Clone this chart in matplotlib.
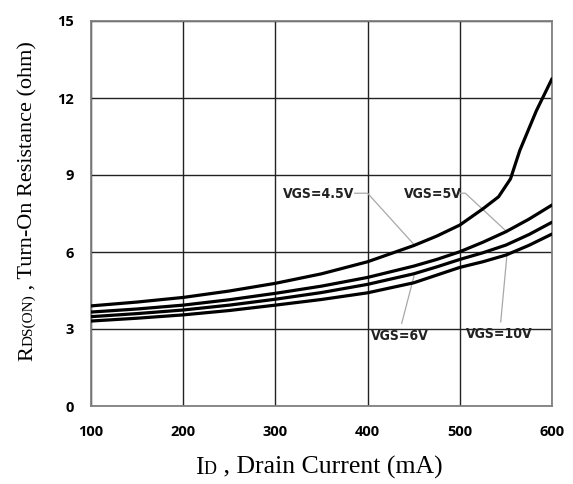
"""
Rds(on) vs Id para distintas tensiones VGS.
"""
import matplotlib
matplotlib.use("Agg")
import matplotlib.pyplot as plt
from matplotlib import font_manager

# datos
x_45 = [100, 150, 200, 250, 300, 350, 400, 450, 475, 500, 525, 542, 555, 565, 583, 600]
r_45 = [3.90, 4.05, 4.23, 4.48, 4.78, 5.15, 5.62, 6.25, 6.62, 7.05, 7.68, 8.15, 8.85, 9.95, 11.5, 12.75]

x_5 = [100, 150, 200, 250, 300, 350, 400, 450, 475, 500, 525, 550, 575, 600]
r_5 = [3.66, 3.78, 3.93, 4.14, 4.39, 4.67, 5.01, 5.45, 5.71, 6.01, 6.38, 6.79, 7.28, 7.83]

x_6 = [100, 150, 200, 250, 300, 350, 400, 450, 475, 500, 525, 550, 575, 600]
r_6 = [3.48, 3.60, 3.74, 3.93, 4.16, 4.42, 4.74, 5.15, 5.42, 5.71, 5.97, 6.27, 6.68, 7.16]

x_10 = [100, 150, 200, 250, 300, 350, 400, 450, 475, 500, 525, 550, 575, 600]
r_10 = [3.31, 3.42, 3.55, 3.72, 3.93, 4.15, 4.41, 4.80, 5.10, 5.40, 5.62, 5.88, 6.26, 6.70]

etiquetas = ["VGS=4.5V", "VGS=5V", "VGS=6V", "VGS=10V"]
xticks = [100, 200, 300, 400, 500, 600]
yticks = [0, 3, 6, 9, 12, 15]

nombres = {f.name for f in font_manager.fontManager.ttflist}
fuente_num = "Open Sans" if "Open Sans" in nombres else "DejaVu Sans"
serif = "Liberation Serif"

fig = plt.figure(figsize=(5.73, 4.84), dpi=100)
ax = fig.add_axes([91 / 573, 78 / 484, 461 / 573, 385 / 484])

for xs, rs in [(x_45, r_45), (x_5, r_5), (x_6, r_6), (x_10, r_10)]:
    ax.plot(xs, rs, color="black", lw=2.3, solid_capstyle="round",
            solid_joinstyle="round", zorder=3)

ax.set_xlim(100, 600)
ax.set_ylim(0, 15)
ax.set_xticks(xticks)
ax.set_yticks(yticks)
ax.grid(True, color="#222222", lw=1.0)
ax.tick_params(length=0)
ax.tick_params(axis="x", pad=14)
ax.tick_params(axis="y", pad=12)
for lab in ax.get_xticklabels() + ax.get_yticklabels():
    lab.set_fontfamily(fuente_num)
    lab.set_fontweight("bold")
    lab.set_fontsize(10.5)
for s in ax.spines.values():
    s.set_color("#808080")
    s.set_linewidth(1.3)

# etiquetas con lineas guia
gris = "#a8a8a8"
ax.plot([386, 400, 449.6], [8.29, 8.29, 6.32], color=gris, lw=0.9, zorder=2)
ax.plot([500, 506, 551], [8.29, 8.29, 6.79], color=gris, lw=0.9, zorder=2)
ax.plot([437, 450.3], [3.22, 5.06], color=gris, lw=0.9, zorder=2)
ax.plot([544.4, 551], [3.28, 5.84], color=gris, lw=0.9, zorder=2)

pos_lbl = [(346.5, 8.26), (471.3, 8.26), (435.1, 2.74), (542.9, 2.79)]
for txt, (px, py) in zip(etiquetas, pos_lbl):
    ax.text(px, py, txt, ha="center", va="center", fontsize=10,
            fontweight="bold", family="DejaVu Sans", fontstretch="condensed",
            color="#222222", zorder=4)


def texto_por_partes(partes, x0, y0, rot, centro):
    """Escribe trozos de texto con distinto tamaño sobre la misma linea base."""
    renderer = fig.canvas.get_renderer()
    objs = []
    largo = 0
    for s, size in partes:
        t = fig.text(0, 0, s, fontsize=size, family=serif, rotation=rot,
                     rotation_mode="anchor", ha="left", va="baseline",
                     transform=None)
        bb = t.get_window_extent(renderer)
        w = bb.height if rot == 90 else bb.width
        objs.append((t, w))
        largo += w
    pos = centro - largo / 2
    for t, w in objs:
        if rot == 90:
            t.set_position((x0, pos))
        else:
            t.set_position((pos, y0))
        pos += w


# eje x: centro en x=319 px, linea base a 10 px del borde inferior
texto_por_partes([("I", 18.5), ("D", 13), (" , Drain Current (mA)", 18.5)],
                 0, 10, 0, 319)
# eje y: linea base en x=32 px, centro a 201 px desde arriba
texto_por_partes([("R", 16), ("DS(ON)", 11), (" , Turn-On Resistance (ohm)", 16)],
                 32, 0, 90, 484 - 201)

fig.savefig("out.png", dpi=100)
